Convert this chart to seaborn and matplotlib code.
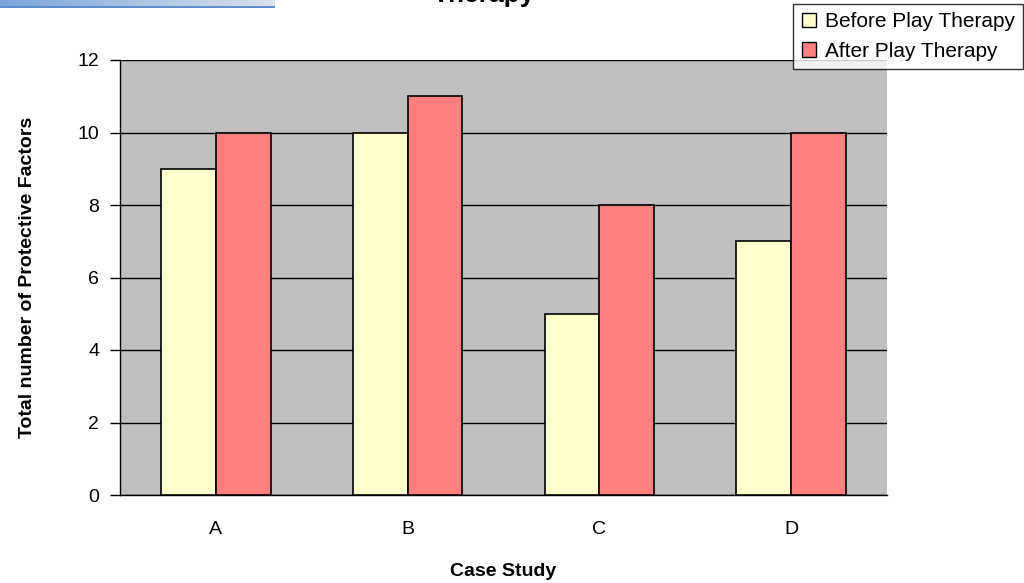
#Importing libraries
import numpy as np
import pandas as pd
import matplotlib
matplotlib.use("Agg")
import matplotlib.pyplot as plt
import seaborn as sns

#Chart data
cases = ["A", "B", "C", "D"]
before = [9, 10, 5, 7]
after = [10, 11, 8, 10]
series_names = ["Before Play Therapy", "After Play Therapy"]
y_ticks = [0, 2, 4, 6, 8, 10, 12]

#Long-form table for seaborn
DataFrame = pd.DataFrame({
    "Case Study": cases * 2,
    "Factors": before + after,
    "Period": [series_names[0]] * len(cases) + [series_names[1]] * len(cases),
})

sns.set_style("white")
plt.rcParams["font.family"] = ["Liberation Sans", "DejaVu Sans"]
plt.rcParams["text.color"] = "black"
plt.rcParams["axes.labelcolor"] = "black"
plt.rcParams["xtick.color"] = "black"
plt.rcParams["ytick.color"] = "black"

fig = plt.figure(figsize=(10.24, 5.83), dpi=100)
ax = fig.add_axes([120 / 1024, 1 - 495 / 583, 767 / 1024, 435 / 583])
ax.set_facecolor("#C0C0C0")

sns.barplot(data=DataFrame, x="Case Study", y="Factors", hue="Period",
            palette=["#FFFFCC", "#FF8080"], width=0.57, gap=0,
            edgecolor="black", linewidth=1.2, saturation=1, ax=ax, zorder=3)

#Axes styling
ax.set_xlim(-0.5, len(cases) - 0.5)
ax.set_ylim(0, 12)
ax.set_yticks(y_ticks)
ax.yaxis.grid(True, color="#000000", linewidth=1, zorder=1)
ax.set_axisbelow(True)
for side in ["top", "right"]:
    ax.spines[side].set_visible(False)
for side in ["left", "bottom"]:
    ax.spines[side].set_color("black")
    ax.spines[side].set_linewidth(1)

ax.set_xticks(np.arange(-0.5, len(cases)), minor=True)
ax.tick_params(axis="x", which="major", length=0, pad=19, labelsize=14, labelcolor="black")
ax.tick_params(axis="x", which="minor", length=7, width=1, color="black", direction="out")
ax.tick_params(axis="y", length=7, width=1, color="black", direction="out", pad=8,
               labelsize=14, labelcolor="black", left=True)

ax.set_xlabel("Case Study", fontsize=14, fontweight="bold", labelpad=18, color="black")
ax.set_ylabel("Total number of Protective Factors", fontsize=14, fontweight="bold",
              labelpad=30, color="black")

#Legend in the top right corner
ax.get_legend().remove()
handles = [plt.Rectangle((0, 0), 1, 1, facecolor=c, edgecolor="black", linewidth=1)
           for c in ["#FFFFCC", "#FF8080"]]
leg = fig.legend(handles, series_names, loc="upper right",
                 bbox_to_anchor=(1023 / 1024, 1 - 4 / 583), fontsize=15,
                 frameon=True, fancybox=False, borderaxespad=0,
                 handlelength=0.7, handleheight=0.7, handletextpad=0.4,
                 labelspacing=0.5, borderpad=0.4)
leg.get_frame().set_edgecolor("black")
leg.get_frame().set_linewidth(1)
for t in leg.get_texts():
    t.set_color("black")

#Title, mostly cut off by the top edge as in the original screenshot
fig.text(484 / 1024, 1 - 2 / 583, "Therapy", ha="center", va="baseline",
         fontsize=19, fontweight="bold", color="black")

#Blue band at top left
band = fig.add_axes([0, 1 - 8 / 583, 275 / 1024, 8 / 583])
grad = np.linspace(0, 1, 256)
colors = np.outer(np.ones(8), grad)
band.imshow(colors, aspect="auto", cmap=matplotlib.colors.LinearSegmentedColormap.from_list(
    "band", ["#7AA5DB", "#DCE2EA"]))
band.axhline(6.5, color="#5B8BCB", linewidth=2)
band.axis("off")

fig.savefig("out.png", dpi=100)
